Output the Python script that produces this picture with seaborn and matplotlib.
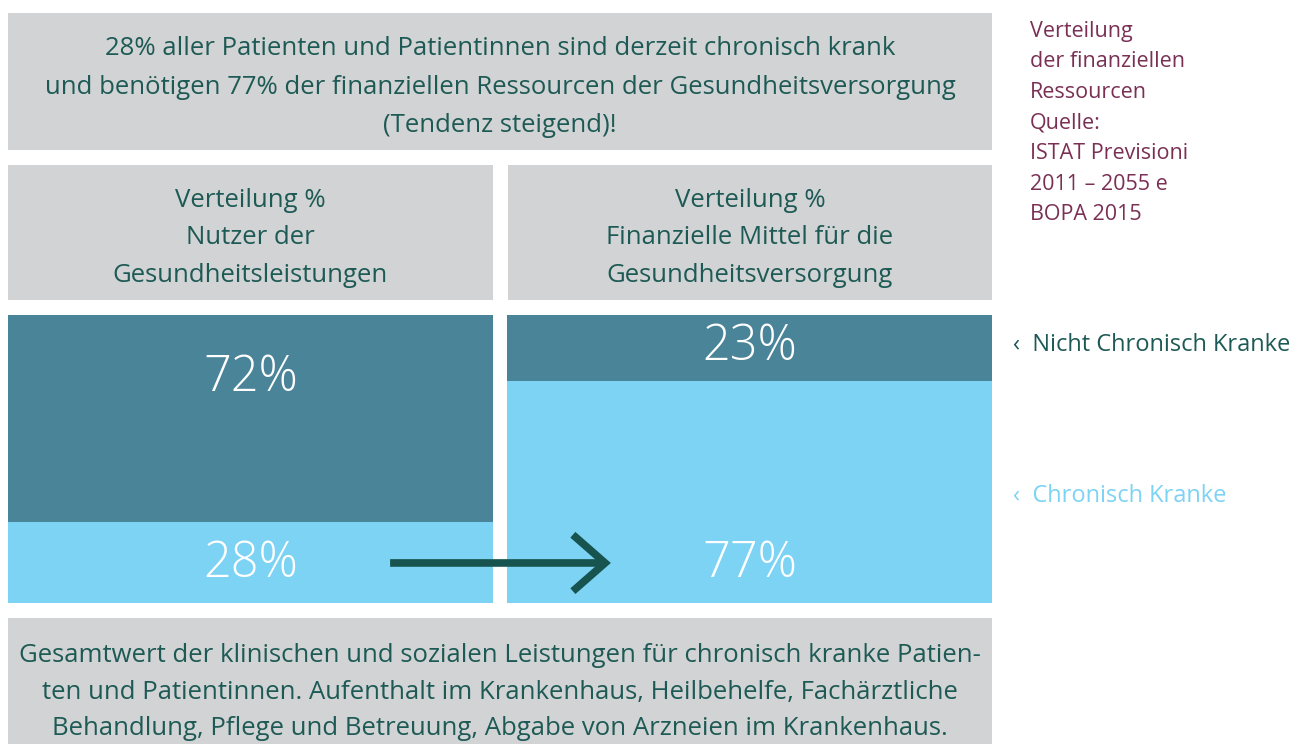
import matplotlib
matplotlib.use("Agg")
import matplotlib.pyplot as plt
import seaborn as sns
import pandas as pd
from matplotlib.patches import Rectangle

sns.set_theme(style="white")
plt.rcParams["font.family"] = ["Open Sans", "DejaVu Sans"]

# ---------------- data ----------------
groups = ["Nutzer", "Finanzielle Mittel"]
chronisch = [28, 77]
nicht_chronisch = [72, 23]
series_names = ["Nicht Chronisch Kranke", "Chronisch Kranke"]

titel = ("28% aller Patienten und Patientinnen sind derzeit chronisch krank\n"
         "und benötigen 77% der finanziellen Ressourcen der Gesundheitsversorgung\n"
         "(Tendenz steigend)!")
kopf_links = "Verteilung %\nNutzer der\nGesundheitsleistungen"
kopf_rechts = "Verteilung %\nFinanzielle Mittel für die\nGesundheitsversorgung"
fuss = ("Gesamtwert der klinischen und sozialen Leistungen für chronisch kranke Patien-\n"
        "ten und Patientinnen. Aufenthalt im Krankenhaus, Heilbehelfe, Fachärztliche\n"
        "Behandlung, Pflege und Betreuung, Abgabe von Arzneien im Krankenhaus.")
quelle = ["Verteilung", "der finanziellen", "Ressourcen", "Quelle:",
          "ISTAT Previsioni", "2011 – 2055 e", "BOPA 2015"]

# ---------------- colours ----------------
GRAU = "#d1d3d4"
DUNKEL = "#4a8499"
HELL = "#7dd3f4"
TEXT = "#1e5a55"
PFEIL = "#17544f"
WEIN = "#7a3054"

df = pd.DataFrame({"gruppe": groups,
                   "chronisch": chronisch,
                   "gesamt": [c + n for c, n in zip(chronisch, nicht_chronisch)]})

W, H = 1310, 744
fig = plt.figure(figsize=(W / 100, H / 100), dpi=100)

# background layer in pixel coordinates
bg = fig.add_axes([0, 0, 1, 1], zorder=0)
bg.set_xlim(0, W)
bg.set_ylim(H, 0)
bg.axis("off")

for x, y, w, h in [(8, 13, 984, 137), (8, 165, 485, 135), (508, 165, 484, 135), (8, 618, 984, 140)]:
    bg.add_patch(Rectangle((x, y), w, h, facecolor=GRAU, edgecolor="none"))

bg.text(500, 87, titel, ha="center", va="center", fontsize=18.5, color=TEXT, linespacing=1.7)
bg.text(250, 238, kopf_links, ha="center", va="center", fontsize=18.5, color=TEXT, linespacing=1.66)
bg.text(750, 238, kopf_rechts, ha="center", va="center", fontsize=18.5, color=TEXT, linespacing=1.66)
bg.text(500, 692, fuss, ha="center", va="center", fontsize=18.5, color=TEXT, linespacing=1.62)

bg.text(1030, 123, "\n".join(quelle), ha="left", va="center", fontsize=15.5, color=WEIN, linespacing=1.6)
bg.text(1013, 345, "‹  " + series_names[0], ha="left", va="center", fontsize=17, color=TEXT)
bg.text(1013, 496, "‹  " + series_names[1], ha="left", va="center", fontsize=17, color=HELL)

# bar layer: axes spans x 8..992, y 315..603 px
ax = fig.add_axes([8 / W, 1 - 603 / H, 984 / W, 288 / H], zorder=1)
ax.patch.set_alpha(0)
sns.barplot(data=df, x="gruppe", y="gesamt", color=DUNKEL, width=0.97,
            saturation=1, ax=ax, edgecolor="none")
sns.barplot(data=df, x="gruppe", y="chronisch", color=HELL, width=0.97,
            saturation=1, ax=ax, edgecolor="none")
ax.set_xlim(-0.485, 1.485)
ax.set_ylim(0, 100)
ax.axis("off")

lbl_top_y = [78, 89]
lbl_bot_y = 13.5
for i, (c, n) in enumerate(zip(chronisch, nicht_chronisch)):
    ax.text(i, lbl_top_y[i], f"{n}%", ha="center", va="center", color="white",
            fontsize=35, fontweight="light")
    ax.text(i, lbl_bot_y, f"{c}%", ha="center", va="center", color="white",
            fontsize=35, fontweight="light")

ax.annotate("", xy=(0.722, 13.9), xytext=(0.28, 13.9),
            arrowprops=dict(arrowstyle="->,head_length=0.8,head_width=0.7",
                            mutation_scale=29, lw=5.5, color=PFEIL,
                            shrinkA=0, shrinkB=0, joinstyle="miter", capstyle="butt"))

fig.savefig("out.png", dpi=100)
